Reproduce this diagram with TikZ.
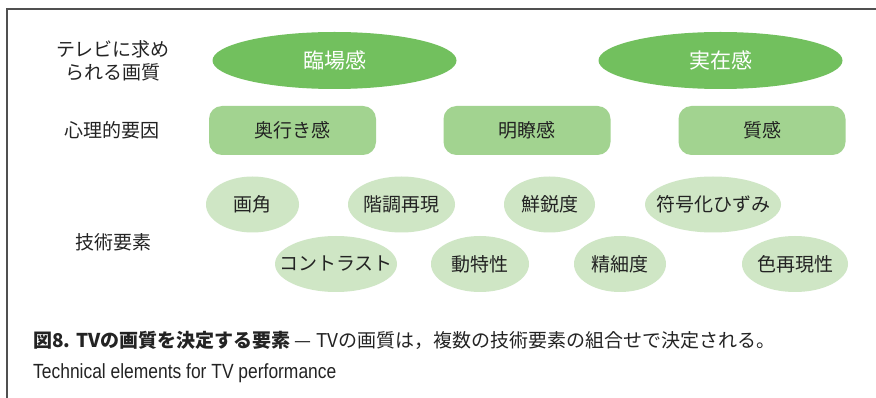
\documentclass[tikz,border=0pt]{standalone}
\usepackage{fontspec}
\newfontfamily\jp{Noto Sans CJK JP}
\newfontfamily\en{Liberation Sans}
\usetikzlibrary{shapes.geometric}
\definecolor{dkgreen}{RGB}{114,192,94}
\definecolor{mdgreen}{RGB}{162,211,144}
\definecolor{ltgreen}{RGB}{207,230,197}
\definecolor{txt}{RGB}{35,35,35}
\definecolor{frame}{RGB}{80,80,80}
\begin{document}
\begin{tikzpicture}[x=1pt,y=-1pt,
  quality/.style={ellipse, fill=dkgreen, inner sep=0pt, minimum width=244pt, minimum height=57pt,
    text=white, font=\jp\fontsize{21}{25}\selectfont},
  factor/.style={rectangle, rounded corners=13pt, fill=mdgreen, inner sep=0pt, minimum width=167pt,
    minimum height=49pt, text=txt, font=\jp\fontsize{19}{23}\selectfont},
  techfill/.style={fill=ltgreen},
  techtext/.style={inner sep=0pt, text=txt, font=\jp\fontsize{19}{23}\selectfont},
  rowlabel/.style={align=center, text=txt, font=\jp\fontsize{19}{23}\selectfont, inner sep=0pt}]
\useasboundingbox (0,0) rectangle (876,398);
\fill[white] (0,0) rectangle (876,398);
\coordinate (fa) at (7,398);
\coordinate (fb) at (7,9);
\coordinate (fc) at (876,9);
\draw[frame, line width=1.2pt] (fa) -- (fb) -- (fc);

% row labels
\node[rowlabel] (l1) at (113,61) {テレビに求め\\られる画質};
\node[rowlabel] (l2) at (112,130) {心理的要因};
\node[rowlabel] (l3) at (113,242) {技術要素};

% required quality
\node[quality] (q1) at (334.5,60.5) {臨場感};
\node[quality] (q2) at (720.5,60.5) {実在感};

% psychological factors
\node[factor] (f1) at (292.5,130.5) {奥行き感};
\node[factor] (f2) at (527,130.5) {明瞭感};
\node[factor] (f3) at (762,130.5) {質感};

% technical elements: ellipses
\fill[techfill] (252.5,204.5) ellipse [x radius=46.5, y radius=28];
\fill[techfill] (401.5,204.5) ellipse [x radius=53.5, y radius=28];
\fill[techfill] (549.5,204.5) ellipse [x radius=45.5, y radius=28];
\fill[techfill] (713,204.5) ellipse [x radius=68, y radius=28];
\fill[techfill] (336,264) ellipse [x radius=61, y radius=28];
\fill[techfill] (480,264) ellipse [x radius=49, y radius=28];
\fill[techfill] (620,264) ellipse [x radius=46, y radius=28];
\fill[techfill] (795,264) ellipse [x radius=53, y radius=28];
% technical elements: texts
\node[techtext] (t1) at (252.5,204.5) {画角};
\node[techtext] (t2) at (401.5,204.5) {階調再現};
\node[techtext] (t3) at (549.5,204.5) {鮮鋭度};
\node[techtext] (t4) at (713,204.5) {符号化ひずみ};
\node[techtext] (t5) at (336,264) {コントラスト};
\node[techtext] (t6) at (480,264) {動特性};
\node[techtext] (t7) at (620,264) {精細度};
\node[techtext] (t8) at (795,264) {色再現性};

% caption
\node[anchor=west, inner sep=0pt, text=txt] (c1) at (33,340)
  {\jp\fontsize{19}{23}\selectfont\bfseries 図8. TVの画質を決定する要素\mdseries\ — TVの画質は，複数の技術要素の組合せで決定される。};
\node[anchor=west, inner sep=0pt, text=txt] (c2) at (33,373)
  {\scalebox{0.85}[1]{\en\fontsize{20.5}{24}\selectfont Technical elements for TV performance}};
\end{tikzpicture}
\end{document}
